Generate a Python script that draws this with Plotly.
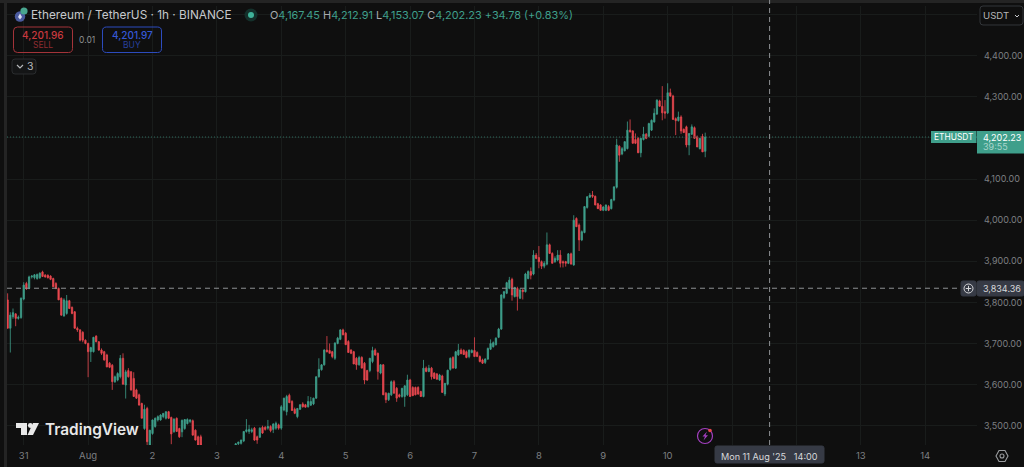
import pandas as pd
import plotly.graph_objects as go

# Hourly ETH/USDT candles, 30 Jul 2025 18:00 to 10 Aug 2025 14:00
first_hour = "2025-07-30 18:00"
open_ = [
 3806,3737,3765,3772,3761,3763,3808,3846,3834,3862,
 3860,3858,3860,3874,3866,3866,3864,3858,3846,3834,
 3810,3767,3773,3804,3788,3777,3737,3733,3727,3708,
 3700,3680,3680,3718,3704,3684,3680,3672,3652,3647,
 3607,3611,3619,3664,3599,3634,3631,3615,3587,3575,
 3554,3493,3542,3453,3481,3498,3514,3514,3522,3518,
 3534,3520,3485,3518,3493,3485,3493,3505,3510,3512,
 3489,3473,3473,3450,3435,3418,3408,3420,3392,3378,
 3390,3412,3425,3440,3446,3452,3456,3457,3463,3486,
 3486,3486,3494,3473,3472,3496,3496,3494,3498,3491,
 3494,3502,3494,3538,3534,3574,3559,3540,3522,3540,
 3553,3551,3546,3550,3553,3567,3619,3636,3648,3684,
 3683,3680,3664,3700,3710,3733,3725,3705,3684,3680,
 3664,3648,3666,3652,3634,3634,3656,3684,3676,3628,
 3648,3579,3563,3575,3607,3591,3575,3571,3571,3575,
 3611,3593,3593,3593,3583,3571,3640,3632,3640,3628,
 3626,3611,3621,3577,3601,3637,3666,3640,3672,3684,
 3683,3680,3668,3678,3683,3678,3668,3660,3654,3662,
 3686,3692,3697,3715,3735,3812,3822,3834,3856,3814,
 3834,3810,3830,3826,3858,3875,3869,3915,3909,3899,
 3888,3893,3940,3919,3899,3903,3915,3899,3899,3895,
 3918,3891,4004,3988,3952,3970,4031,4056,4061,4058,
 4040,4037,4024,4024,4033,4028,4049,4080,4180,4161,
 4169,4174,4219,4217,4196,4199,4164,4196,4209,4204,
 4219,4239,4258,4290,4277,4264,4261,4310,4302,4247,
 4242,4251,4221,4227,4183,4209,4225,4203,4174,4204,
 4167.45]
high = [
 3822,3776,3785,3774,3768,3812,3849,3850,3865,3866,
 3869,3870,3873,3877,3869,3868,3866,3860,3849,3836,
 3812,3810,3818,3806,3790,3779,3741,3735,3730,3710,
 3702,3692,3716,3720,3706,3688,3682,3675,3655,3650,
 3622,3630,3672,3676,3636,3640,3633,3630,3590,3578,
 3556,3551,3546,3490,3515,3520,3525,3528,3530,3535,
 3536,3522,3518,3520,3495,3515,3516,3518,3516,3515,
 3491,3476,3478,3452,3442,3430,3425,3432,3405,3398,
 3418,3430,3445,3450,3452,3458,3461,3466,3487,3516,
 3502,3495,3497,3476,3496,3500,3499,3514,3501,3506,
 3510,3505,3550,3568,3575,3578,3562,3544,3543,3552,
 3557,3553,3572,3570,3568,3620,3664,3650,3686,3718,
 3700,3682,3703,3716,3735,3736,3728,3708,3686,3682,
 3667,3670,3669,3655,3636,3665,3692,3688,3678,3650,
 3650,3582,3580,3610,3611,3594,3578,3592,3598,3624,
 3614,3596,3595,3596,3585,3660,3644,3648,3643,3630,
 3628,3626,3624,3604,3636,3666,3669,3682,3699,3688,
 3686,3683,3685,3686,3715,3681,3671,3663,3664,3690,
 3710,3705,3715,3738,3820,3828,3850,3862,3860,3838,
 3838,3834,3832,3872,3878,3885,3927,3920,3937,3902,
 3900,3970,3943,3922,3912,3927,3927,3902,3901,3920,
 3921,4012,4007,3992,3975,4034,4058,4066,4071,4060,
 4042,4039,4034,4038,4037,4052,4082,4198,4182,4178,
 4192,4240,4245,4219,4211,4202,4200,4227,4212,4237,
 4245,4272,4294,4293,4326,4292,4333,4320,4305,4250,
 4264,4255,4223,4230,4212,4233,4228,4206,4200,4210,
 4212.91]
low = [
 3737,3678,3760,3742,3758,3760,3805,3830,3832,3858,
 3856,3855,3857,3862,3860,3858,3854,3838,3832,3806,
 3767,3765,3770,3784,3771,3736,3728,3705,3703,3698,
 3618,3655,3678,3703,3682,3672,3658,3642,3640,3587,
 3604,3608,3615,3600,3566,3617,3585,3570,3565,3550,
 3518,3490,3445,3445,3478,3495,3510,3512,3518,3515,
 3516,3455,3483,3485,3470,3472,3490,3503,3506,3476,
 3464,3452,3450,3430,3410,3400,3395,3385,3370,3365,
 3385,3402,3420,3430,3440,3450,3453,3454,3460,3483,
 3480,3482,3463,3456,3470,3480,3488,3490,3484,3482,
 3490,3490,3490,3535,3525,3555,3536,3528,3518,3538,
 3544,3544,3544,3548,3550,3565,3617,3634,3646,3678,
 3676,3664,3660,3698,3708,3720,3697,3678,3674,3650,
 3636,3646,3640,3601,3609,3630,3652,3670,3612,3625,
 3575,3555,3560,3572,3578,3558,3568,3568,3546,3572,
 3570,3572,3574,3575,3570,3569,3630,3630,3612,3614,
 3612,3609,3580,3572,3598,3634,3640,3638,3670,3674,
 3672,3664,3664,3676,3668,3668,3654,3650,3650,3660,
 3684,3690,3695,3713,3733,3808,3820,3832,3804,3812,
 3780,3808,3807,3824,3856,3856,3866,3905,3883,3881,
 3883,3890,3918,3895,3896,3900,3885,3885,3887,3893,
 3893,3889,3984,3925,3949,3968,4028,4054,4054,4036,
 4027,4023,4022,4022,4022,4026,4046,4077,4142,4158,
 4167,4172,4213,4186,4185,4163,4153,4194,4197,4202,
 4217,4237,4256,4276,4243,4247,4258,4300,4245,4207,
 4240,4210,4212,4177,4158,4207,4198,4178,4172,4166,
 4153.07]
close = [
 3737,3769,3775,3761,3764,3810,3842,3834,3862,3864,
 3867,3868,3871,3863,3862,3860,3856,3838,3834,3806,
 3769,3806,3804,3785,3773,3737,3733,3708,3708,3700,
 3680,3690,3715,3704,3684,3676,3660,3643,3642,3607,
 3619,3627,3664,3601,3631,3619,3587,3571,3567,3550,
 3518,3540,3461,3489,3514,3518,3522,3526,3530,3534,
 3518,3480,3516,3486,3473,3513,3515,3515,3514,3477,
 3465,3453,3453,3435,3418,3408,3420,3392,3378,3390,
 3412,3425,3440,3446,3450,3456,3460,3465,3486,3490,
 3491,3490,3465,3465,3494,3482,3491,3498,3488,3504,
 3506,3494,3546,3567,3571,3556,3537,3530,3542,3551,
 3546,3545,3559,3559,3567,3619,3637,3648,3684,3680,
 3676,3668,3701,3713,3733,3721,3697,3678,3676,3650,
 3648,3666,3640,3611,3611,3664,3683,3672,3632,3648,
 3575,3563,3579,3607,3579,3567,3571,3591,3597,3611,
 3571,3573,3575,3577,3571,3640,3632,3640,3619,3615,
 3613,3623,3581,3603,3635,3664,3640,3680,3684,3675,
 3673,3666,3684,3683,3668,3668,3656,3652,3662,3688,
 3700,3702,3713,3735,3818,3826,3848,3854,3818,3836,
 3814,3830,3826,3869,3875,3866,3915,3907,3899,3888,
 3895,3940,3919,3895,3907,3915,3895,3896,3895,3918,
 3893,4000,3984,3952,3972,4033,4057,4061,4058,4037,
 4028,4024,4032,4037,4024,4050,4081,4183,4158,4174,
 4191,4219,4215,4187,4187,4164,4199,4209,4199,4235,
 4243,4260,4292,4277,4261,4260,4310,4302,4245,4242,
 4251,4217,4213,4183,4211,4227,4199,4178,4199,4166,
 4202.23]

price_ticks = [3500, 3600, 3700, 3800, 3900, 4000, 4100, 4200, 4300, 4400, 4500]
price_labels = ["3,500.00", "3,600.00", "3,700.00", "3,800.00", "3,900.00", "4,000.00",
                "4,100.00", "", "4,300.00", "4,400.00", ""]
date_ticks = ["2025-07-31", "2025-08-01", "2025-08-02", "2025-08-03", "2025-08-04", "2025-08-05",
              "2025-08-06", "2025-08-07", "2025-08-08", "2025-08-09", "2025-08-10", "2025-08-11",
              "2025-08-12", "2025-08-13", "2025-08-14"]
date_labels = ["31", "Aug", "2", "3", "4", "5", "6", "7", "8", "9", "10", "", "", "13", "14"]
last_price = 4202.23
cross_price = 3834.36
cross_time = "2025-08-11 14:00"
x_range = ["2025-07-30 17:46", "2025-08-14 19:18"]
y_range = [3453, 4521]

BG = "#0f0f0f"
GRID = "#191c1b"
UP = "#3f9f8b"
DOWN = "#e8474f"
GRAY = "#7d7f82"
TEXT = "#c9cbcf"
FONT = "Inter"

L, T, PW, PH = 7, 6, 970, 439


def px(x):
    return (x - L) / PW


def py(y):
    return 1 - (y - T) / PH


def rect(x0, y0, x1, y1, fill, line=None, lw=1):
    return dict(type="rect", xref="paper", yref="paper", x0=px(x0), x1=px(x1), y0=py(y0), y1=py(y1),
                fillcolor=fill, line=dict(color=line or "rgba(0,0,0,0)", width=lw if line else 0),
                layer="above")


def path(points, fill="rgba(0,0,0,0)", line=None, lw=1, close=True):
    d = "M " + " L ".join(f"{px(a):.5f} {py(b):.5f}" for a, b in points) + (" Z" if close else "")
    return dict(type="path", xref="paper", yref="paper", path=d, fillcolor=fill,
                line=dict(color=line or "rgba(0,0,0,0)", width=lw if line else 0), layer="above")


def rrect(x0, y0, x1, y1, r, line, fill="rgba(0,0,0,0)", lw=1):
    d = (f"M {px(x0+r):.5f} {py(y0):.5f} L {px(x1-r):.5f} {py(y0):.5f} "
         f"Q {px(x1):.5f} {py(y0):.5f} {px(x1):.5f} {py(y0+r):.5f} L {px(x1):.5f} {py(y1-r):.5f} "
         f"Q {px(x1):.5f} {py(y1):.5f} {px(x1-r):.5f} {py(y1):.5f} L {px(x0+r):.5f} {py(y1):.5f} "
         f"Q {px(x0):.5f} {py(y1):.5f} {px(x0):.5f} {py(y1-r):.5f} L {px(x0):.5f} {py(y0+r):.5f} "
         f"Q {px(x0):.5f} {py(y0):.5f} {px(x0+r):.5f} {py(y0):.5f} Z")
    return dict(type="path", xref="paper", yref="paper", path=d, fillcolor=fill,
                line=dict(color=line, width=lw), layer="above")


def circle(cx, cy, r, fill, line=None, lw=1):
    return dict(type="circle", xref="paper", yref="paper", x0=px(cx - r), x1=px(cx + r),
                y0=py(cy + r), y1=py(cy - r), fillcolor=fill,
                line=dict(color=line or "rgba(0,0,0,0)", width=lw if line else 0), layer="above")


def label(x, y, text, color=TEXT, size=10.5, anchor="left", weight=None, family=FONT):
    f = dict(color=color, size=size, family=family)
    if weight:
        f["weight"] = weight
    return dict(xref="paper", yref="paper", x=px(x), y=py(y), text=text, showarrow=False,
                xanchor=anchor, yanchor="middle", font=f, borderpad=0, borderwidth=0)


hours = pd.date_range(first_hour, periods=len(close), freq="h")

fig = go.Figure(go.Candlestick(
    x=hours, open=open_, high=high, low=low, close=close, whiskerwidth=0,
    increasing=dict(line=dict(color=UP, width=0.8), fillcolor=UP),
    decreasing=dict(line=dict(color=DOWN, width=0.8), fillcolor=DOWN),
    showlegend=False, hoverinfo="skip"))

shapes = [
    # frame strips
    rect(4, 0, 7, 467, "#242424"),
    rect(0, 0, 1024, 3, "#242424"),
    # last price line and crosshair
    dict(type="line", xref="x", yref="y", x0=x_range[0], x1=x_range[1], y0=last_price, y1=last_price,
         line=dict(color="#2f6a5d", width=1, dash="1px,2px"), layer="above"),
    dict(type="line", xref="paper", yref="y", x0=0, x1=px(961), y0=cross_price, y1=cross_price,
         line=dict(color="#8f9194", width=1, dash="5px,4px"), layer="above"),
    dict(type="line", xref="x", yref="paper", x0=cross_time, x1=cross_time, y0=0, y1=py(0),
         line=dict(color="#8f9194", width=1, dash="5px,4px"), layer="above"),
    # last price tags
    rect(931, 131, 976.5, 143, UP),
    rect(977, 131, 1024, 153.5, UP),
    # crosshair tags
    rrect(961, 281, 976, 296, 2, "#363a45", "#363a45"),
    circle(968.5, 288.5, 4.5, "rgba(0,0,0,0)", "#d7d8da", 1),
    path([(965.8, 288.5), (971.2, 288.5)], line="#d7d8da", close=False),
    path([(968.5, 285.8), (968.5, 291.2)], line="#d7d8da", close=False),
    rrect(977, 281, 1024, 296, 2, "#363a45", "#363a45"),
    rrect(715, 446, 824, 463, 2, "#363a45", "#363a45"),
    # order buttons
    rrect(13.5, 27, 72.5, 52.5, 4, "#a5343a"),
    rrect(102.5, 27, 161.5, 52.5, 4, "#2d4cc0"),
    rrect(12, 59, 36, 74, 3, "#2a2c2e", "#141516"),
    path([(17, 65), (20, 68), (23, 65)], line="#b5b7ba", lw=1.2, close=False),
    # unit selector
    rrect(980, 6, 1023, 25, 3, "#33363a", "#0f0f0f"),
    path([(1015, 15), (1017, 17), (1019, 15)], line="#c9cbcf", lw=1, close=False),
    # symbol icons and status dot
    circle(20, 16.5, 5.2, "#4a5a9e"),
    circle(24, 11, 3.6, "#49a68f"),
    path([(20, 13.5), (22, 17), (20, 19.5), (18, 17)], fill="#d8dcf0"),
    circle(251, 15, 6.5, "#14302b"),
    circle(251, 15, 3, "#3fb39a"),
    # TradingView logo
    path([(16, 423), (27, 423), (27, 435), (21, 435), (21, 428), (16, 428)], fill="#e8e8e8"),
    circle(30.3, 425.5, 2.4, "#e8e8e8"),
    path([(33, 423), (39, 423), (33, 435), (27.5, 435)], fill="#e8e8e8"),
    # lightning badge
    circle(705, 436, 7.5, "rgba(0,0,0,0)", "#a33fc0", 1.2),
    path([(707, 431.5), (702.5, 436.5), (705, 436.5), (703.5, 440.5), (708, 435.2), (705.5, 435.2)], fill="#a33fc0"),
    circle(710, 430.5, 1.8, "#e8474f"),
    # settings icon
    path([(996, 456), (999, 450.5), (1005, 450.5), (1008, 456), (1005, 461.5), (999, 461.5)],
         line="#9a9c9f", lw=1.1),
    circle(1002, 456, 2, "rgba(0,0,0,0)", "#9a9c9f", 1.1),
]

G = f'<span style="color:{UP}">'
ohlc = (f'O{G}4,167.45</span> H{G}4,212.91</span> L{G}4,153.07</span> C{G}4,202.23</span> '
        f'{G}+34.78 (+0.83%)</span>')

annotations = [
    label(31, 15, "Ethereum / TetherUS · 1h · BINANCE", "#c6c8cc", 11.8),
    label(270, 15, ohlc, "#a8aaad", 10.9),
    label(43, 34.5, "4,201.96", "#c9393f", 10, "center", 500),
    label(43, 45.5, "SELL", "#8f2c31", 8.5, "center"),
    label(87, 40, "0.01", "#8d8f92", 8.5, "center"),
    label(132, 34.5, "4,201.97", "#3558d6", 10, "center", 500),
    label(132, 45.5, "BUY", "#27409c", 8.5, "center"),
    label(30, 66.5, "3", "#b5b7ba", 10.5, "center"),
    label(983, 15.5, "USDT", "#b5b7ba", 9.6),
    label(953.5, 137.2, "ETHUSDT", "#ffffff", 8.4, "center"),
    label(983, 137, "4,202.23", "#ffffff", 9),
    label(983, 146.8, "39:55", "#a9d6cb", 9),
    label(983, 288.5, "3,834.36", "#d7d8da", 9),
    label(721, 456, "Mon 11 Aug '25 &nbsp;&nbsp;14:00", "#d7d8da", 9.1),
    label(45, 429.5, "TradingView", "#e8e8e8", 15.4, weight=600),
]

fig.update_layout(
    width=1024, height=467, paper_bgcolor=BG, plot_bgcolor=BG, autosize=False,
    margin=dict(l=L, r=1024 - L - PW, t=T, b=467 - T - PH, pad=0, autoexpand=False),
    font=dict(family=FONT, color=GRAY, size=9),
    shapes=shapes, annotations=annotations, hovermode=False,
    xaxis=dict(type="date", range=x_range, rangeslider=dict(visible=False), tickmode="array",
               tickvals=date_ticks, ticktext=date_labels, gridcolor=GRID, gridwidth=1, showline=False,
               zeroline=False, ticks="", tickfont=dict(size=9.5, color=GRAY, family=FONT), ticklabelstandoff=3),
    yaxis=dict(range=y_range, side="right", tickmode="array", tickvals=price_ticks, ticktext=price_labels,
               gridcolor=GRID, gridwidth=1, showline=False, zeroline=False, ticks="",
               tickfont=dict(size=9, color=GRAY, family=FONT), ticklabelstandoff=6),
)

fig.write_html("out.html", config=dict(displayModeBar=False, responsive=False),
               default_width="1024px", default_height="467px",
               post_script="document.body.style.margin='0';")
